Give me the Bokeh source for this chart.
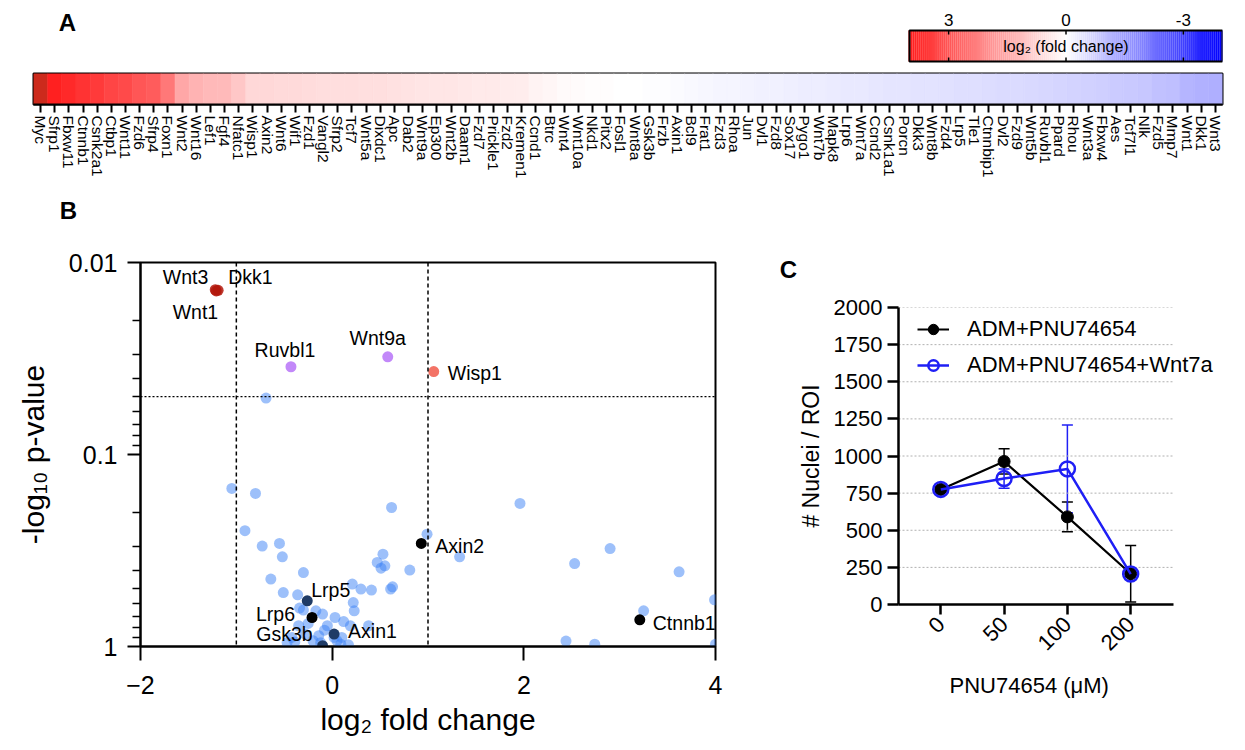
import math
import numpy as np
from bokeh.plotting import figure
from bokeh.models import (Range1d, FixedTicker, LinearColorMapper, ColumnDataSource, Span,
                          Label, Whisker, TeeHead, Legend, LegendItem, Title)
from bokeh.transform import transform
from bokeh.layouts import column, row
from bokeh.embed import file_html
from bokeh.resources import INLINE
from bokeh.core.properties import value

FONT = "Liberation Sans"

# ---------------- data ----------------
genes = ["Myc", "Sfrp1", "Fbxw11", "Ctnnb1", "Csnk2a1", "Ctbp1", "Wnt11", "Fzd6", "Sfrp4", "Foxn1",
         "Wnt2", "Wnt16", "Lef1", "Fgf4", "Nfatc1", "Wisp1", "Axin2", "Wnt6", "Wif1", "Fzd1",
         "Vangl2", "Sfrp2", "Tcf7", "Wnt5a", "Dixdc1", "Apc", "Dab2", "Wnt9a", "Ep300", "Wnt2b",
         "Daam1", "Fzd7", "Prickle1", "Fzd2", "Kremen1", "Ccnd1", "Btrc", "Wnt4", "Wnt10a", "Nkd1",
         "Pitx2", "Fosl1", "Wnt8a", "Gsk3b", "Frzb", "Axin1", "Bcl9", "Frat1", "Fzd3", "Rhoa",
         "Jun", "Dvl1", "Fzd8", "Sox17", "Pygo1", "Wnt7b", "Mapk8", "Lrp6", "Wnt7a", "Ccnd2",
         "Csnk1a1", "Porcn", "Dkk3", "Wnt8b", "Fzd4", "Lrp5", "Tle1", "Ctnnbip1", "Dvl2", "Fzd9",
         "Wnt5b", "Ruvbl1", "Ppard", "Rhou", "Wnt3a", "Fbxw4", "Aes", "Tcf7l1", "Nlk", "Fzd5",
         "Mmp7", "Wnt1", "Dkk1", "Wnt3"]
log2_fc = [4.6, 3.95, 3.8, 3.6, 3.5, 3.3, 3.2, 3.0, 2.9, 2.4,
           1.55, 1.33, 1.24, 1.2, 1.0, 0.7, 0.68, 0.66, 0.64, 0.62,
           0.6, 0.6, 0.58, 0.57, 0.55, 0.52, 0.5, 0.47, 0.45, 0.43,
           0.4, 0.38, 0.36, 0.34, 0.3, 0.22, 0.15, 0.08, 0.05, 0.03,
           0.02, 0.01, 0.0, -0.02, -0.04, -0.06, -0.1, -0.13, -0.15, -0.17,
           -0.19, -0.21, -0.23, -0.25, -0.27, -0.29, -0.31, -0.33, -0.35, -0.37,
           -0.39, -0.41, -0.43, -0.45, -0.47, -0.49, -0.51, -0.53, -0.55, -0.57,
           -0.6, -0.63, -0.66, -0.69, -0.72, -0.76, -0.8, -0.84, -0.88, -0.95,
           -1.0, -1.15, -1.2, -1.25]
cbar_ticks = [3, 0, -3]

# volcano: all genes (x = log2 fold change, y = -log10 p)
volc_x = [-0.69, -1.047, -0.80, -0.91, -0.73, -0.55, -0.52, -0.30, -0.64, -0.51,
          -0.36, -0.34, -0.30, -0.17, -0.10, 0.03, 0.21, 0.30, 0.41, 0.22,
          0.23, 0.61, 0.63, 0.47, 0.53, 0.55, 0.51, 0.81, 0.62, 0.99,
          1.33, 1.96, 2.53, 2.90, 3.62, 3.99, 3.25, 2.44, 2.74, 4.0,
          -0.35, -0.42, -0.47, -0.39, -0.28, -0.14, -0.05, 0.02, 0.10, 0.17,
          0.09, 0.19, 0.38, -0.20, 0.05, -0.08, -0.25, 0.12, -0.12]
volc_y = [1.294, 0.823, 0.797, 0.603, 0.523, 0.537, 0.467, 0.385, 0.351, 0.281,
          0.269, 0.200, 0.190, 0.186, 0.169, 0.151, 0.325, 0.299, 0.294, 0.229,
          0.186, 0.299, 0.311, 0.438, 0.481, 0.420, 0.408, 0.398, 0.724, 0.585,
          0.467, 0.745, 0.432, 0.510, 0.389, 0.243, 0.186, 0.028, 0.012, 0.012,
          0.108, 0.047, 0.021, 0.024, 0.065, 0.056, 0.108, 0.047, 0.047, 0.009,
          0.012, 0.108, 0.108, 0.030, 0.030, 0.085, 0.120, 0.130, 0.020]

hl_genes = ["Wnt3", "Dkk1", "Wnt1", "Ruvbl1", "Wnt9a", "Wisp1", "Axin2", "Lrp5", "Lrp6",
            "Gsk3b", "Axin1", "Ctnnb1"]
hl_x = [-1.22, -1.19, -1.21, -0.43, 0.58, 1.06, 0.93, -0.26, -0.21, -0.10, 0.02, 3.21]
hl_y = [1.858, 1.855, 1.852, 1.457, 1.509, 1.432, 0.537, 0.238, 0.151, 0.004, 0.065, 0.139]

conc = ["0", "50", "100", "200"]
adm_mean = [775, 963, 590, 207]
adm_sd = [15, 85, 100, 190]
wnt_mean = [775, 848, 913, 205]
wnt_sd = [15, 65, 295, 20]

# ---------------- styles ----------------
hl_color = ["#b3170c", "#b3170c", "#b3170c", "#a855f7", "#a855f7", "#f05040", "#000000",
            "#1f3b66", "#000000", "#1f3b66", "#1f3b66", "#000000"]
hl_alpha = [0.85, 0.85, 0.85, 0.7, 0.7, 0.8, 1, 1, 1, 1, 1, 1]
# label placement: (align, x_offset, y_offset)
hl_lab = [("right", -7, -13), ("left", 10, -13), ("right", 2, 21), ("center", -6, -17),
          ("center", -10, -19), ("left", 14, 1), ("left", 14, 3), ("left", 4, -11),
          ("right", -17, -4), ("right", -10, -12), ("left", 14, -3), ("left", 13, 3)]

HM_L, HM_W, HM_R = 33, 1189, 23     # heat-map frame placement (px)


def style_axis(ax, tick_size, label_size):
    ax.major_label_text_font = FONT
    ax.axis_label_text_font = FONT
    ax.major_label_text_color = "black"
    ax.axis_label_text_color = "black"
    ax.axis_label_text_font_style = "normal"
    ax.major_label_text_font_size = tick_size
    ax.axis_label_text_font_size = label_size
    ax.axis_line_color = "black"
    ax.major_tick_line_color = "black"
    ax.minor_tick_line_color = "black"


def blank(width, height, left=0, right=0):
    f = figure(frame_width=width, frame_height=height, min_border=0, min_border_left=left,
               min_border_right=right, x_axis_location=None, y_axis_location=None,
               x_range=Range1d(0, width), y_range=Range1d(0, height),
               output_backend="svg", toolbar_location=None)
    f.outline_line_color = None
    f.grid.visible = False
    return f


def letter(fig, txt, x, y):
    fig.add_layout(Label(x=x, y=y, text=txt, text_font=FONT, text_font_style="bold",
                         text_font_size="24px", text_align="center", text_baseline="middle",
                         text_color="black"))


# ---------------- Panel A: colour bar row ----------------
def mix(c, t):
    return tuple(int(round(255 + (ci - 255) * t)) for ci in c)


palette = []
for t in np.linspace(-1, 1, 257):
    r, g, b = mix((0, 0, 255), -t) if t < 0 else mix((255, 30, 30), t)
    palette.append("#%02x%02x%02x" % (r, g, b))
cb_lo, cb_hi = -4, 4
mapper = LinearColorMapper(palette=palette, low=cb_lo, high=cb_hi, high_color="#cc2a1c",
                           low_color="#0000ff")

TOP_H = 66
CB_L, CB_R = 909 - HM_L, 1222 - HM_L   # colour bar extent inside the frame (px)
CB_BOT, CB_TOP = 5, 36                 # colour bar vertical extent (from bottom of row)
px_per = (CB_R - CB_L) / (cb_hi - cb_lo)
ftop = blank(HM_W, TOP_H, HM_L, HM_R)
ftop.extra_x_ranges = {"cb": Range1d(cb_hi + CB_L / px_per, cb_hi - (HM_W - CB_L) / px_per)}
letter(ftop, "A", 67 - HM_L, 44)

cb_vals = np.linspace(cb_lo, cb_hi, 161)
cb_mid = (CB_BOT + CB_TOP) / 2
ftop.rect(x="v", y=cb_mid, width=(cb_hi - cb_lo) / 160 * 1.05, height=CB_TOP - CB_BOT,
          source=ColumnDataSource(dict(v=cb_vals)), x_range_name="cb",
          fill_color=transform("v", mapper), line_color=None)
ftop.rect(x=[(cb_lo + cb_hi) / 2], y=[cb_mid], width=[cb_hi - cb_lo], height=[CB_TOP - CB_BOT],
          x_range_name="cb", fill_color=None, line_color="black", line_width=2)
ftop.segment(x0=cbar_ticks, y0=CB_TOP, x1=cbar_ticks, y1=CB_TOP - 4, x_range_name="cb",
             line_color="black", line_width=1.5)
ftop.segment(x0=cbar_ticks, y0=CB_BOT, x1=cbar_ticks, y1=CB_BOT + 4, x_range_name="cb",
             line_color="black", line_width=1.5)
ftop.text(x=cbar_ticks, y=CB_TOP + 5, text=[str(v) for v in cbar_ticks], x_range_name="cb",
          text_align="center", text_baseline="bottom", text_font=value(FONT),
          text_font_size="17px", text_color="black")
ftop.text(x=[0], y=[cb_mid], text=["log\u2082 (fold change)"], x_range_name="cb",
          text_align="center", text_baseline="middle", text_font=value(FONT),
          text_font_size="16px", text_color="black")

# ---------------- Panel A: heatmap ----------------
n_genes = len(genes)
gene_pos = list(range(n_genes))
heat = figure(x_range=Range1d(-0.5, n_genes - 0.5), y_range=Range1d(0, 1),
              frame_width=HM_W, frame_height=31, min_border_left=HM_L, min_border_right=HM_R,
              min_border_top=7, min_border_bottom=86, y_axis_location=None,
              output_backend="svg", toolbar_location=None)
heat.grid.visible = False
heat.outline_line_color = "black"
heat.outline_line_width = 2
heat.outline_line_alpha = 1
heat.rect(x="pos", y=0.5, width=1, height=1,
          source=ColumnDataSource(dict(pos=gene_pos, gene=genes, fc=log2_fc)),
          fill_color=transform("fc", mapper), line_color=transform("fc", mapper),
          line_width=0.6)
xa = heat.xaxis[0]
xa.ticker = FixedTicker(ticks=gene_pos, minor_ticks=[])
xa.major_label_overrides = {i: g for i, g in zip(gene_pos, genes)}
style_axis(xa, "15.5px", "12px")
xa.axis_label = None
xa.major_label_orientation = "vertical"
xa.major_tick_out = 8
xa.major_tick_in = 0
xa.major_tick_line_width = 2
xa.axis_line_width = 2
xa.major_label_standoff = 3

# ---------------- Panel B: volcano ----------------
fB = blank(760, 52)
letter(fB, "B", 68, 32)

vp = figure(x_range=Range1d(-2, 4), y_range=Range1d(0, 2), frame_width=575, frame_height=384,
            min_border_left=140, min_border_right=45, min_border_top=20, min_border_bottom=96,
            output_backend="svg", toolbar_location=None)
vp.outline_line_color = "black"
vp.outline_line_width = 2
vp.outline_line_alpha = 1
vp.grid.visible = False

minor_p = [0.02, 0.03, 0.04, 0.05, 0.06, 0.07, 0.08, 0.09, 0.2, 0.3, 0.4, 0.5, 0.6, 0.7, 0.8, 0.9]
ya = vp.yaxis[0]
ya.ticker = FixedTicker(ticks=[0, 1, 2], minor_ticks=[-math.log10(v) for v in minor_p])
ya.major_label_overrides = {0: "1", 1: "0.1", 2: "0.01"}
style_axis(ya, "25px", "30px")
ya.axis_label = "-log\u2081\u2080 p-value"
ya.axis_line_width = 2
ya.major_tick_line_width = 2
ya.minor_tick_line_width = 1.5
ya.major_tick_out = 13
ya.major_tick_in = 0
ya.minor_tick_out = 8
ya.minor_tick_in = 0
ya.major_label_standoff = 10
ya.axis_label_standoff = 16

xb = vp.xaxis[0]
xb.ticker = FixedTicker(ticks=[-2, 0, 2, 4], minor_ticks=[])
style_axis(xb, "25px", "30px")
xb.axis_label = "log\u2082 fold change"
xb.axis_line_width = 2
xb.major_tick_line_width = 2
xb.major_tick_out = 14
xb.major_tick_in = 0
xb.major_label_standoff = 15
xb.axis_label_standoff = 6

for loc in (-1, 1):
    vp.add_layout(Span(location=loc, dimension="height", line_color="black",
                       line_dash="4 3", line_width=1.5))
vp.add_layout(Span(location=-math.log10(0.05), dimension="width", line_color="black",
                   line_dash="2 2", line_width=1.3))

vp.scatter(volc_x, volc_y, size=11, fill_color="#3b82f6", fill_alpha=0.5, line_color=None)
vp.scatter(hl_x, hl_y, size=11, fill_color=hl_color, fill_alpha=hl_alpha, line_color=None)
for g, x, y, (al, xo, yo) in zip(hl_genes, hl_x, hl_y, hl_lab):
    vp.text(x=[x], y=[y], text=[g], x_offset=xo, y_offset=yo, text_align=al,
            text_baseline="middle", text_font=value(FONT), text_font_size="19.5px",
            text_color="black")

# ---------------- Panel C: nuclei counts ----------------
fC = blank(485, 100)
letter(fC, "C", 28, 21)

conc_pos = list(range(len(conc)))
UNIT_PX = 63.3          # pixels between categories
AXIS_PX = 275           # visible x-axis length
FRAME_PX = 339          # frame width (room for the legend)
x_lo = -0.668
x_axis_hi = x_lo + AXIS_PX / UNIT_PX
x_frame_hi = x_lo + FRAME_PX / UNIT_PX

cp = figure(x_range=Range1d(x_lo, x_frame_hi), y_range=Range1d(0, 2000),
            frame_width=FRAME_PX, frame_height=297, min_border_left=138, min_border_right=8,
            min_border_top=17, min_border_bottom=138, output_backend="svg",
            toolbar_location=None)
cp.outline_line_color = None
cp.grid.visible = False
yticks = list(range(0, 2001, 250))
cp.segment(x0=x_lo, y0=yticks, x1=x_axis_hi, y1=yticks, line_color="#b0b0b0",
           line_dash="2 2", line_width=1)

yc = cp.yaxis[0]
yc.ticker = FixedTicker(ticks=yticks, minor_ticks=[])
style_axis(yc, "22px", "23px")
yc.axis_label = "# Nuclei / ROI"
yc.axis_line_width = 2.5
yc.major_tick_line_width = 2.5
yc.major_tick_out = 11
yc.major_tick_in = 0
yc.major_label_standoff = 5
yc.axis_label_standoff = 7

xc = cp.xaxis[0]
xc.ticker = FixedTicker(ticks=conc_pos, minor_ticks=[])
xc.major_label_overrides = {i: c for i, c in zip(conc_pos, conc)}
xc.bounds = (x_lo, x_axis_hi)
style_axis(xc, "22px", "22px")
xc.axis_label = None
xc.major_label_orientation = math.pi / 4
xc.axis_line_width = 2.5
xc.major_tick_line_width = 2.5
xc.major_tick_out = 10
xc.major_tick_in = 0
xc.major_label_standoff = 6

# x-axis title centred under the visible axis (frame is wider to hold the legend)
x_title_text = "PNU74654 (\u03bcM)"
X_TITLE_LEFT = 51       # px from the y-axis to the start of the title text
cp.add_layout(Title(text=x_title_text, align="left", offset=X_TITLE_LEFT,
                    standoff=21, text_font=FONT, text_font_size="22px",
                    text_font_style="normal", text_color="black"), "below")

BLACK = "black"
BLUE = "#1f1ff5"
src_a = ColumnDataSource(dict(x=conc_pos, y=adm_mean,
                              lo=[m - s for m, s in zip(adm_mean, adm_sd)],
                              hi=[m + s for m, s in zip(adm_mean, adm_sd)]))
src_w = ColumnDataSource(dict(x=conc_pos, y=wnt_mean,
                              lo=[m - s for m, s in zip(wnt_mean, wnt_sd)],
                              hi=[m + s for m, s in zip(wnt_mean, wnt_sd)]))

for src, col in ((src_a, BLACK), (src_w, BLUE)):
    cp.add_layout(Whisker(source=src, base="x", upper="hi", lower="lo", line_color=col,
                          line_width=1.5, level="underlay",
                          upper_head=TeeHead(size=11, line_color=col, line_width=1.5),
                          lower_head=TeeHead(size=11, line_color=col, line_width=1.5)))

r1l = cp.line("x", "y", source=src_a, line_color=BLACK, line_width=2.2)
r1s = cp.scatter("x", "y", source=src_a, size=12, fill_color=BLACK, line_color=BLACK)
r2l = cp.line("x", "y", source=src_w, line_color=BLUE, line_width=2.5)
r2s = cp.scatter("x", "y", source=src_w, size=15, fill_color=None, line_color=BLUE,
                 line_width=2.5)

legend = Legend(items=[LegendItem(label="ADM+PNU74654", renderers=[r1l, r1s]),
                       LegendItem(label="ADM+PNU74654+Wnt7a", renderers=[r2l, r2s])],
                location=(19, 226), label_text_font=FONT, label_text_font_size="22px",
                label_text_color="black", glyph_width=32, glyph_height=26, label_height=26,
                spacing=10, padding=0, margin=0, label_standoff=18,
                background_fill_alpha=0, border_line_alpha=0)
cp.add_layout(legend)

left_col = column(row(fB, spacing=0), vp, spacing=0)
right_col = column(row(fC, spacing=0), cp, spacing=0)
layout = column(ftop, heat, row(left_col, right_col, spacing=0), spacing=0)
open("out.html", "w").write(file_html(layout, INLINE))
